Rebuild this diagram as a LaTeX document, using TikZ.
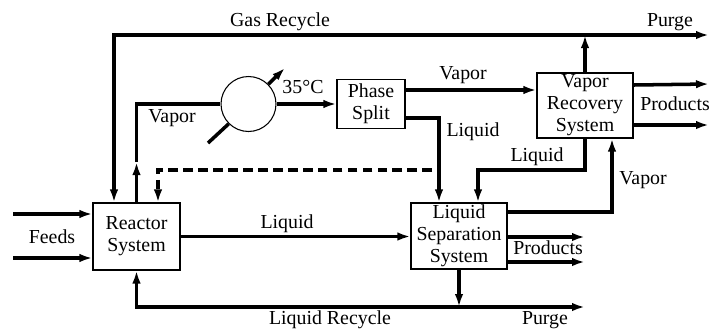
\documentclass[tikz,border=0pt]{standalone}
\usepackage{fontspec}
\setmainfont{Liberation Serif}
\usetikzlibrary{arrows.meta,positioning}

\begin{document}
\begin{tikzpicture}[
    x=0.02cm, y=-0.02cm,
    unit/.style={rectangle, draw, line width=0.6pt, inner sep=0pt, align=center,
                 font=\fontsize{11.3}{12.5}\selectfont},
    cooler/.style={circle, draw, line width=0.6pt, fill=white, inner sep=0pt, minimum size=1.1cm},
    pipe/.style={line width=2pt},
    flow/.style={pipe, -{Latex[length=2.6mm,width=1.7mm]}},
    twoway/.style={pipe, {Latex[length=2.6mm,width=1.7mm]}-{Latex[length=2.6mm,width=1.7mm]}},
    signal/.style={line width=2pt, dash pattern=on 5.5pt off 3pt, -{Latex[length=2.6mm,width=1.7mm]}},
    lab/.style={inner sep=1pt, font=\fontsize{11.3}{12.5}\selectfont}
  ]
    \useasboundingbox (0,0) rectangle (710,329);

    % process units
    \node[unit, minimum width=1.74cm, minimum height=1.34cm] (reactor) at (136.5,236.5) {Reactor\\System};
    \node[unit, minimum width=1.36cm, minimum height=0.98cm] (split)   at (371,104)     {Phase\\Split};
    \node[unit, minimum width=1.92cm, minimum height=1.30cm] (vrs)     at (585,105.5)   {Vapor\\Recovery\\System};
    \node[unit, minimum width=1.92cm, minimum height=1.32cm] (lss)     at (459,236)     {Liquid\\Separation\\System};
    \node[cooler] (hx) at (248.5,104) {};

    % free ends and bends
    \coordinate (feedA)  at (13,214);
    \coordinate (feedB)  at (13,258);
    \coordinate (vapmid) at (136.5,162);
    \coordinate (vapbend) at (136.5,104);
    \coordinate (hxlow)  at (208,143);
    \coordinate (hxtip)  at (285,68);
    \coordinate (purgeG) at (709,35);
    \coordinate (purgeL) at (585,307);
    \coordinate (prodA)  at (709,84);
    \coordinate (prodB)  at (709,125);
    \coordinate (prodC)  at (585,237);
    \coordinate (prodD)  at (585,262);
    \coordinate (liqV)   at (585,170);
    \coordinate (ctrl)   at (432,170);

    % feeds
    \draw[flow] (feedA) -- (feedA -| reactor.west);
    \draw[flow] (feedB) -- (feedB -| reactor.west);
    \node[lab] (tfeeds) at (52,237) {Feeds};

    % reactor vapor to cooler and phase split
    \draw[flow] (reactor.north) -- (vapmid);
    \draw[pipe] (vapmid) -- (vapbend) -- (hx.west);
    \draw[flow] (hx.east) -- (split.west);
    \draw[pipe] (hxlow) -- (hx.225);
    \draw[flow] (hx.45) -- (hxtip);
    \node[lab] (tvap1) at (172,118) {Vapor};
    \node[lab] (ttemp) at (303,87) {35°C};

    % phase split outlets
    \draw[flow] ([yshift=0.28cm]split.east) -- ([yshift=0.28cm]split.east -| vrs.west);
    \draw[flow] ([yshift=-0.28cm]split.east) -| ([xshift=-0.4cm]lss.north);
    \node[lab] (tvap2) at (463,75) {Vapor};
    \node[lab] (tliq1) at (473,132) {Liquid};

    % gas recycle and purge
    \draw[twoway] ([xshift=-0.45cm]reactor.north) |- (purgeG);
    \draw[flow] (vrs.north) -- (vrs.north |- purgeG);
    \node[lab] (tgas)    at (280,22) {Gas Recycle};
    \node[lab] (tpurge1) at (670,22) {Purge};

    % vapor recovery outlets
    \draw[flow] ([yshift=0.41cm]vrs.east) -- (prodA);
    \draw[flow] ([yshift=-0.39cm]vrs.east) -- (prodB);
    \node[lab] (tprod1) at (675,104) {Products};
    \draw[flow] (vrs.south) -- (liqV) -| ([xshift=0.38cm]lss.north);
    \node[lab] (tliq2) at (537,157) {Liquid};

    % reactor liquid to separation
    \draw[flow] (reactor.east) -- (reactor.east -| lss.west);
    \node[lab] (tliq3) at (287,224) {Liquid};

    % liquid separation outlets
    \draw[flow] ([yshift=0.48cm]lss.east) -| ([xshift=0.54cm]vrs.south);
    \node[lab] (tvap3) at (643,180) {Vapor};
    \draw[flow] (lss.east |- prodC) -- (prodC);
    \draw[flow] (lss.east |- prodD) -- (prodD);
    \node[lab] (tprod2) at (548,248) {Products};
    \draw[flow] (lss.south) -- (lss.south |- purgeL);

    % liquid recycle and purge
    \draw[twoway] (reactor.south) |- (purgeL);
    \node[lab] (tliqrec) at (330,320) {Liquid Recycle};
    \node[lab] (tpurge2) at (545,320) {Purge};

    % control signal
    \draw[signal] (ctrl) -| ([xshift=0.43cm]reactor.north);
  \end{tikzpicture}
\end{document}
